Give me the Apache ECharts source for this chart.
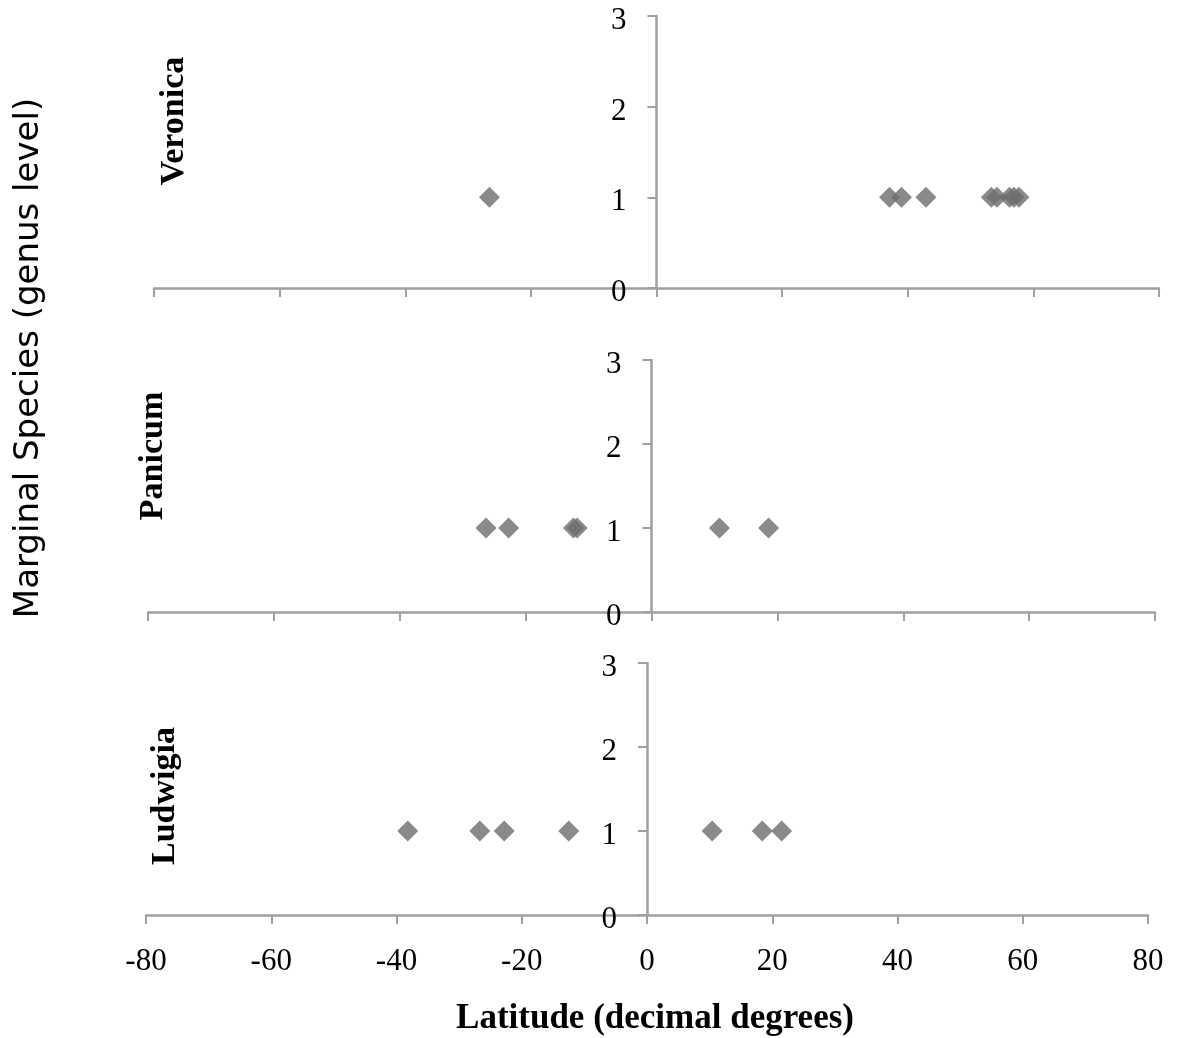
<!DOCTYPE html>
<html>
<head>
<meta charset="utf-8">
<title>Marginal species by latitude</title>
<script src="https://cdn.jsdelivr.net/npm/echarts@6/dist/echarts.min.js"></script>
<style>
  html, body { margin: 0; padding: 0; background: #ffffff; }
  #chart { width: 1179px; height: 1038px; }
</style>
</head>
<body>
<div id="chart"></div>
<script>
// Genera shown, top to bottom
const genera = ['Veronica', 'Panicum', 'Ludwigia'];

// Latitude (decimal degrees) of each marginal-species record, per genus
const veronicaLat = [-26.6, 37.1, 39.0, 42.9, 53.3, 54.2, 56.2, 56.9, 57.7];
const veronicaCount = [1, 1, 1, 1, 1, 1, 1, 1, 1];

const panicumLat = [-26.3, -22.7, -12.4, -11.8, 10.8, 18.6];
const panicumCount = [1, 1, 1, 1, 1, 1];

const ludwigiaLat = [-38.2, -26.7, -22.8, -12.5, 10.4, 18.4, 21.5];
const ludwigiaCount = [1, 1, 1, 1, 1, 1, 1];

// Axis tick values
const latTicks = [-80, -60, -40, -20, 0, 20, 40, 60, 80];
const countTicks = [0, 1, 2, 3];

const latSeries = [veronicaLat, panicumLat, ludwigiaLat];
const countSeries = [veronicaCount, panicumCount, ludwigiaCount];

const CHART_W = 1179;

// Panel boxes (pixels)
const panels = [
  { left: 154, right: 20, top: 16, height: 272 },
  { left: 148, right: 24, top: 360, height: 252 },
  { left: 146, right: 31, top: 663, height: 252 }
];

const axisGrey = '#a0a0a0';
const markGrey = '#6d6d6d';
const serif = '"Liberation Serif", "DejaVu Serif", serif';

const latMin = latTicks[0];
const latMax = latTicks[latTicks.length - 1];

const grid = panels.map(p => ({ left: p.left, right: p.right, top: p.top, height: p.height }));

const xAxis = panels.map((p, i) => {
  const last = i === panels.length - 1;
  return {
    type: 'value',
    gridIndex: i,
    min: latMin,
    max: latMax,
    interval: latTicks[1] - latTicks[0],
    axisLine: { show: true, onZero: false, lineStyle: { color: axisGrey, width: 2.5 } },
    axisTick: { show: true, inside: false, length: 9, lineStyle: { color: axisGrey, width: 2 } },
    axisLabel: {
      show: last,
      margin: 31,
      color: '#000',
      fontFamily: serif,
      fontSize: 31
    },
    splitLine: { show: false },
    name: last ? 'Latitude (decimal degrees)' : '',
    nameLocation: 'middle',
    nameGap: 86,
    nameTextStyle: {
      color: '#000',
      fontFamily: serif,
      fontWeight: 'bold',
      fontSize: 35,
      padding: [0, 0, 0, 16]
    }
  };
});

// The vertical axis crosses the latitude axis at the equator (0°)
const yAxis = panels.map((p, i) => {
  const plotW = CHART_W - p.left - p.right;
  const equatorShift = plotW * (0 - latMin) / (latMax - latMin);
  return {
    type: 'value',
    gridIndex: i,
    position: 'left',
    offset: -equatorShift,
    min: countTicks[0],
    max: countTicks[countTicks.length - 1],
    interval: countTicks[1] - countTicks[0],
    axisLine: { show: true, onZero: false, lineStyle: { color: axisGrey, width: 2.5 } },
    axisTick: { show: true, length: 9, lineStyle: { color: axisGrey, width: 2 } },
    axisLabel: {
      margin: 30,
      verticalAlign: 'top',
      lineHeight: 10,
      color: '#000',
      fontFamily: serif,
      fontSize: 31
    },
    splitLine: { show: false }
  };
});

const series = genera.map((g, i) => ({
  name: g,
  type: 'scatter',
  xAxisIndex: i,
  yAxisIndex: i,
  symbol: 'diamond',
  symbolSize: [21, 21],
  itemStyle: { color: markGrey },
  data: latSeries[i].map((lat, k) => [lat, countSeries[i][k]])
}));

// Genus labels beside each panel, plus the shared vertical title
const genusLabelPos = [
  { x: 174, y: 121 },
  { x: 153, y: 456 },
  { x: 165, y: 796 }
];

const graphic = genera.map((g, i) => ({
  type: 'text',
  x: genusLabelPos[i].x,
  y: genusLabelPos[i].y,
  rotation: Math.PI / 2,
  style: {
    text: g,
    font: 'bold 34px ' + serif,
    fill: '#000',
    textAlign: 'center',
    textVerticalAlign: 'middle'
  }
}));

graphic.push({
  type: 'text',
  x: 29,
  y: 358,
  rotation: Math.PI / 2,
  style: {
    text: 'Marginal Species (genus level)',
    font: '34px "DejaVu Sans", "Noto Sans", sans-serif',
    fill: '#000',
    textAlign: 'center',
    textVerticalAlign: 'middle'
  }
});

const chart = echarts.init(document.getElementById('chart'), null, { renderer: 'canvas' });
chart.setOption({
  backgroundColor: '#ffffff',
  animation: false,
  grid: grid,
  xAxis: xAxis,
  yAxis: yAxis,
  series: series,
  graphic: graphic
});
</script>
</body>
</html>
